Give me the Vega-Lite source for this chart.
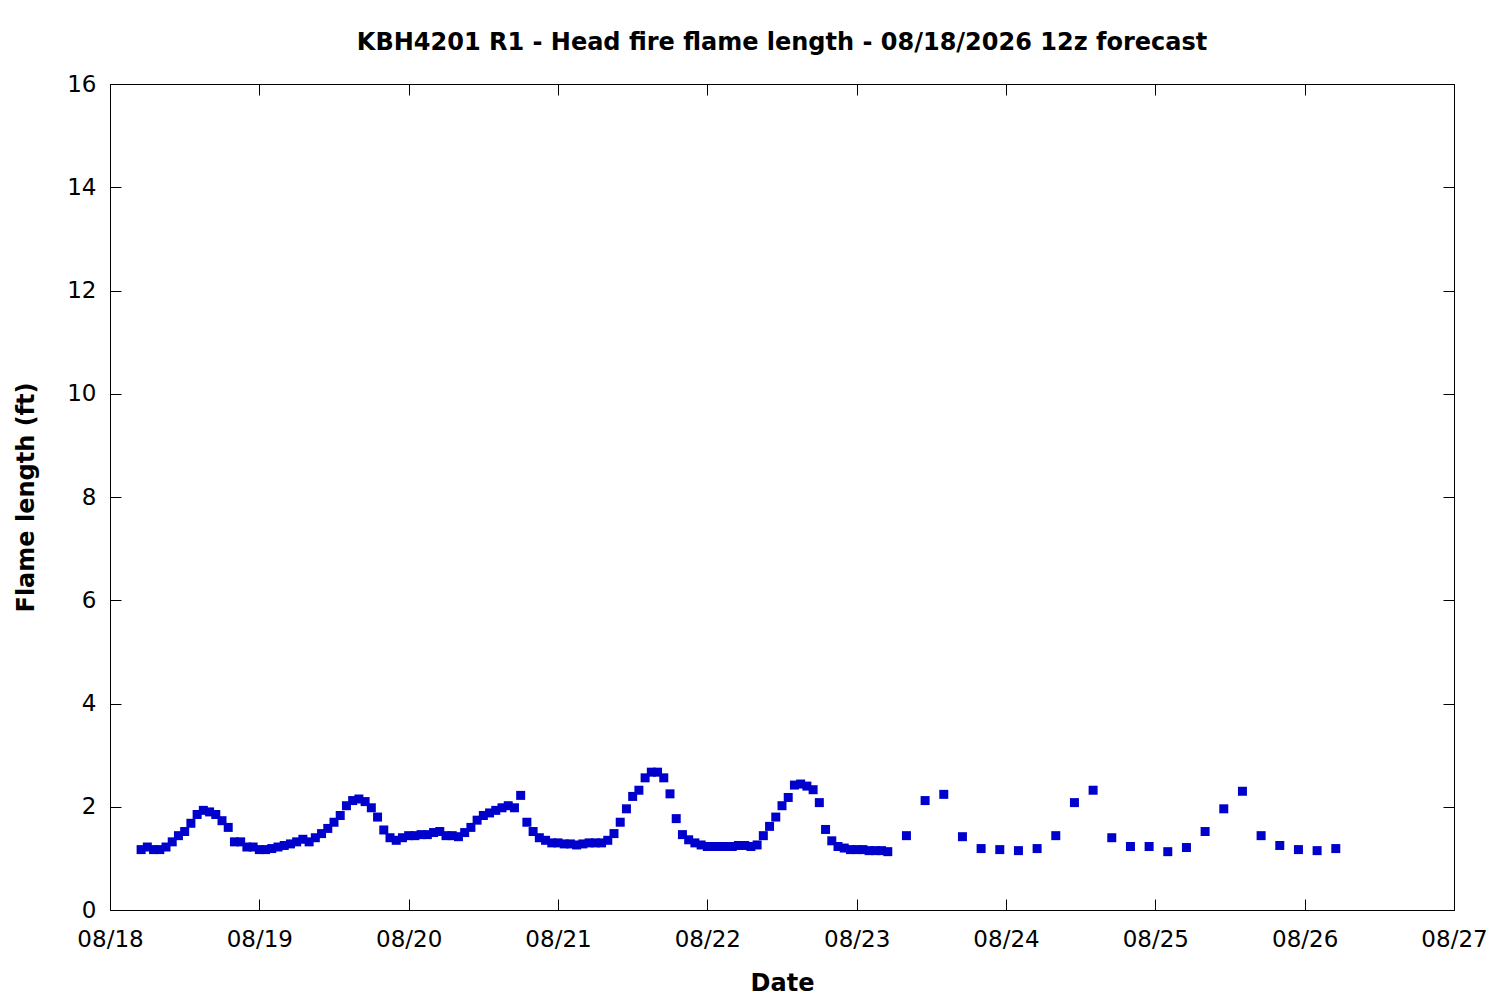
{
  "$schema": "https://vega.github.io/schema/vega-lite/v6.json",
  "autosize": "none",
  "padding": {"left": 110, "top": 84, "right": 46, "bottom": 90},
  "width": 1344,
  "height": 826,
  "background": "white",
  "title": {
    "text": "KBH4201 R1 - Head fire flame length - 08/18/2026 12z forecast",
    "font": "DejaVu Sans",
    "fontSize": 24,
    "fontWeight": "bold",
    "color": "black",
    "anchor": "middle",
    "offset": 18
  },
  "config": {
    "view": {"stroke": "black", "strokeWidth": 1},
    "axis": {
      "grid": false,
      "domain": false,
      "tickColor": "black",
      "tickSize": -11,
      "labelFont": "DejaVu Sans",
      "labelFontSize": 23,
      "labelColor": "black",
      "titleFont": "DejaVu Sans",
      "titleFontSize": 24,
      "titleFontWeight": "bold",
      "titleColor": "black"
    }
  },
  "data": {
    "values": [
      {"t": "2026-08-18T05:00", "v": 1.17},
      {"t": "2026-08-18T06:00", "v": 1.22},
      {"t": "2026-08-18T07:00", "v": 1.17},
      {"t": "2026-08-18T08:00", "v": 1.17},
      {"t": "2026-08-18T09:00", "v": 1.22},
      {"t": "2026-08-18T10:00", "v": 1.32},
      {"t": "2026-08-18T11:00", "v": 1.44},
      {"t": "2026-08-18T12:00", "v": 1.52},
      {"t": "2026-08-18T13:00", "v": 1.68},
      {"t": "2026-08-18T14:00", "v": 1.85},
      {"t": "2026-08-18T15:00", "v": 1.93},
      {"t": "2026-08-18T16:00", "v": 1.90},
      {"t": "2026-08-18T17:00", "v": 1.85},
      {"t": "2026-08-18T18:00", "v": 1.73},
      {"t": "2026-08-18T19:00", "v": 1.60},
      {"t": "2026-08-18T20:00", "v": 1.32},
      {"t": "2026-08-18T21:00", "v": 1.32},
      {"t": "2026-08-18T22:00", "v": 1.22},
      {"t": "2026-08-18T23:00", "v": 1.22},
      {"t": "2026-08-19T00:00", "v": 1.17},
      {"t": "2026-08-19T01:00", "v": 1.17},
      {"t": "2026-08-19T02:00", "v": 1.19},
      {"t": "2026-08-19T03:00", "v": 1.22},
      {"t": "2026-08-19T04:00", "v": 1.25},
      {"t": "2026-08-19T05:00", "v": 1.28},
      {"t": "2026-08-19T06:00", "v": 1.32},
      {"t": "2026-08-19T07:00", "v": 1.37},
      {"t": "2026-08-19T08:00", "v": 1.32},
      {"t": "2026-08-19T09:00", "v": 1.40},
      {"t": "2026-08-19T10:00", "v": 1.48},
      {"t": "2026-08-19T11:00", "v": 1.58},
      {"t": "2026-08-19T12:00", "v": 1.70},
      {"t": "2026-08-19T13:00", "v": 1.83},
      {"t": "2026-08-19T14:00", "v": 2.02},
      {"t": "2026-08-19T15:00", "v": 2.12},
      {"t": "2026-08-19T16:00", "v": 2.15},
      {"t": "2026-08-19T17:00", "v": 2.10},
      {"t": "2026-08-19T18:00", "v": 1.98},
      {"t": "2026-08-19T19:00", "v": 1.80},
      {"t": "2026-08-19T20:00", "v": 1.55},
      {"t": "2026-08-19T21:00", "v": 1.40},
      {"t": "2026-08-19T22:00", "v": 1.35},
      {"t": "2026-08-19T23:00", "v": 1.40},
      {"t": "2026-08-20T00:00", "v": 1.44},
      {"t": "2026-08-20T01:00", "v": 1.44},
      {"t": "2026-08-20T02:00", "v": 1.46},
      {"t": "2026-08-20T03:00", "v": 1.46},
      {"t": "2026-08-20T04:00", "v": 1.50},
      {"t": "2026-08-20T05:00", "v": 1.52},
      {"t": "2026-08-20T06:00", "v": 1.44},
      {"t": "2026-08-20T07:00", "v": 1.44},
      {"t": "2026-08-20T08:00", "v": 1.42},
      {"t": "2026-08-20T09:00", "v": 1.50},
      {"t": "2026-08-20T10:00", "v": 1.60},
      {"t": "2026-08-20T11:00", "v": 1.74},
      {"t": "2026-08-20T12:00", "v": 1.83},
      {"t": "2026-08-20T13:00", "v": 1.88},
      {"t": "2026-08-20T14:00", "v": 1.93},
      {"t": "2026-08-20T15:00", "v": 1.98},
      {"t": "2026-08-20T16:00", "v": 2.02},
      {"t": "2026-08-20T17:00", "v": 1.98},
      {"t": "2026-08-20T18:00", "v": 2.22},
      {"t": "2026-08-20T19:00", "v": 1.70},
      {"t": "2026-08-20T20:00", "v": 1.52},
      {"t": "2026-08-20T21:00", "v": 1.40},
      {"t": "2026-08-20T22:00", "v": 1.35},
      {"t": "2026-08-20T23:00", "v": 1.30},
      {"t": "2026-08-21T00:00", "v": 1.30},
      {"t": "2026-08-21T01:00", "v": 1.28},
      {"t": "2026-08-21T02:00", "v": 1.28},
      {"t": "2026-08-21T03:00", "v": 1.26},
      {"t": "2026-08-21T04:00", "v": 1.28},
      {"t": "2026-08-21T05:00", "v": 1.30},
      {"t": "2026-08-21T06:00", "v": 1.30},
      {"t": "2026-08-21T07:00", "v": 1.30},
      {"t": "2026-08-21T08:00", "v": 1.35},
      {"t": "2026-08-21T09:00", "v": 1.48},
      {"t": "2026-08-21T10:00", "v": 1.70},
      {"t": "2026-08-21T11:00", "v": 1.96},
      {"t": "2026-08-21T12:00", "v": 2.20},
      {"t": "2026-08-21T13:00", "v": 2.32},
      {"t": "2026-08-21T14:00", "v": 2.56},
      {"t": "2026-08-21T15:00", "v": 2.67},
      {"t": "2026-08-21T16:00", "v": 2.67},
      {"t": "2026-08-21T17:00", "v": 2.56},
      {"t": "2026-08-21T18:00", "v": 2.25},
      {"t": "2026-08-21T19:00", "v": 1.77},
      {"t": "2026-08-21T20:00", "v": 1.46},
      {"t": "2026-08-21T21:00", "v": 1.36},
      {"t": "2026-08-21T22:00", "v": 1.30},
      {"t": "2026-08-21T23:00", "v": 1.26},
      {"t": "2026-08-22T00:00", "v": 1.23},
      {"t": "2026-08-22T01:00", "v": 1.23},
      {"t": "2026-08-22T02:00", "v": 1.23},
      {"t": "2026-08-22T03:00", "v": 1.23},
      {"t": "2026-08-22T04:00", "v": 1.23},
      {"t": "2026-08-22T05:00", "v": 1.25},
      {"t": "2026-08-22T06:00", "v": 1.25},
      {"t": "2026-08-22T07:00", "v": 1.23},
      {"t": "2026-08-22T08:00", "v": 1.26},
      {"t": "2026-08-22T09:00", "v": 1.44},
      {"t": "2026-08-22T10:00", "v": 1.62},
      {"t": "2026-08-22T11:00", "v": 1.80},
      {"t": "2026-08-22T12:00", "v": 2.02},
      {"t": "2026-08-22T13:00", "v": 2.18},
      {"t": "2026-08-22T14:00", "v": 2.42},
      {"t": "2026-08-22T15:00", "v": 2.44},
      {"t": "2026-08-22T16:00", "v": 2.40},
      {"t": "2026-08-22T17:00", "v": 2.33},
      {"t": "2026-08-22T18:00", "v": 2.08},
      {"t": "2026-08-22T19:00", "v": 1.56},
      {"t": "2026-08-22T20:00", "v": 1.34},
      {"t": "2026-08-22T21:00", "v": 1.23},
      {"t": "2026-08-22T22:00", "v": 1.20},
      {"t": "2026-08-22T23:00", "v": 1.17},
      {"t": "2026-08-23T00:00", "v": 1.17},
      {"t": "2026-08-23T01:00", "v": 1.17},
      {"t": "2026-08-23T02:00", "v": 1.15},
      {"t": "2026-08-23T03:00", "v": 1.15},
      {"t": "2026-08-23T04:00", "v": 1.15},
      {"t": "2026-08-23T05:00", "v": 1.13},
      {"t": "2026-08-23T08:00", "v": 1.44},
      {"t": "2026-08-23T11:00", "v": 2.12},
      {"t": "2026-08-23T14:00", "v": 2.24},
      {"t": "2026-08-23T17:00", "v": 1.42},
      {"t": "2026-08-23T20:00", "v": 1.19},
      {"t": "2026-08-23T23:00", "v": 1.17},
      {"t": "2026-08-24T02:00", "v": 1.15},
      {"t": "2026-08-24T05:00", "v": 1.19},
      {"t": "2026-08-24T08:00", "v": 1.44},
      {"t": "2026-08-24T11:00", "v": 2.08},
      {"t": "2026-08-24T14:00", "v": 2.32},
      {"t": "2026-08-24T17:00", "v": 1.40},
      {"t": "2026-08-24T20:00", "v": 1.23},
      {"t": "2026-08-24T23:00", "v": 1.23},
      {"t": "2026-08-25T02:00", "v": 1.13},
      {"t": "2026-08-25T05:00", "v": 1.21},
      {"t": "2026-08-25T08:00", "v": 1.52},
      {"t": "2026-08-25T11:00", "v": 1.96},
      {"t": "2026-08-25T14:00", "v": 2.30},
      {"t": "2026-08-25T17:00", "v": 1.44},
      {"t": "2026-08-25T20:00", "v": 1.25},
      {"t": "2026-08-25T23:00", "v": 1.17},
      {"t": "2026-08-26T02:00", "v": 1.15},
      {"t": "2026-08-26T05:00", "v": 1.19}
    ]
  },
  "layer": [
    {
      "mark": {"type": "square", "size": 81, "filled": true, "opacity": 1, "color": "#0000cc"},
      "encoding": {
        "x": {
          "field": "t",
          "type": "temporal",
          "title": "Date",
          "scale": {"domain": [{"year": 2026, "month": 8, "date": 18}, {"year": 2026, "month": 8, "date": 27}]},
          "axis": {"orient": "bottom", "format": "%m/%d", "tickCount": {"interval": "day", "step": 1}, "labelPadding": 29, "titlePadding": 20, "labelFlush": false, "labelOverlap": false}
        },
        "y": {
          "field": "v",
          "type": "quantitative",
          "title": "Flame length (ft)",
          "scale": {"domain": [0, 16], "nice": false},
          "axis": {"orient": "left", "values": [0, 2, 4, 6, 8, 10, 12, 14, 16], "labelPadding": 25, "titlePadding": 28}
        }
      }
    },
    {
      "mark": {"type": "square", "opacity": 0},
      "encoding": {
        "x": {
          "field": "t",
          "type": "temporal",
          "axis": {"orient": "top", "labels": false, "title": null, "tickCount": {"interval": "day", "step": 1}}
        },
        "y": {
          "field": "v",
          "type": "quantitative",
          "axis": {"orient": "right", "labels": false, "title": null, "values": [0, 2, 4, 6, 8, 10, 12, 14, 16]}
        }
      }
    }
  ],
  "resolve": {"axis": {"x": "independent", "y": "independent"}}
}
